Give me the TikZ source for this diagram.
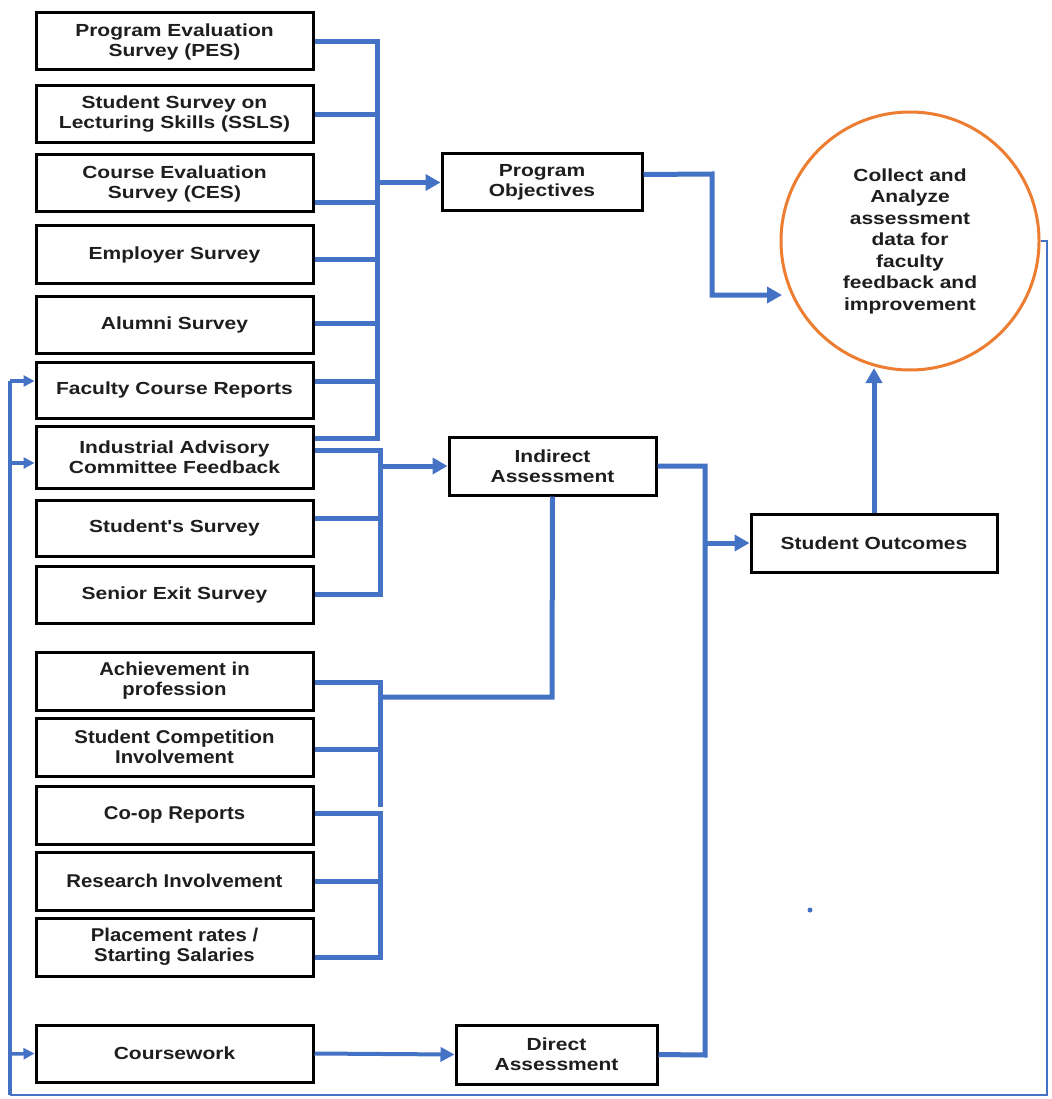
\documentclass[tikz,border=0pt]{standalone}
\usepackage{fontspec}
\setmainfont{Liberation Sans}
\newfontfamily\fa[FakeStretch=1.2]{Liberation Sans}
\newfontfamily\fb[FakeStretch=1.1]{Liberation Sans}
\usetikzlibrary{arrows.meta}
\definecolor{cblue}{HTML}{4472C4}
\definecolor{corange}{HTML}{ED7D31}
\definecolor{ctext}{HTML}{1E1E1E}
\begin{document}
\begin{tikzpicture}[x=1pt,y=-1pt,
  box/.style={draw=black,line width=3pt,align=center,inner sep=2pt,text=ctext,
    font=\fa\bfseries\fontsize{17.5}{20}\selectfont},
  lbox/.style={box,minimum width=277pt,minimum height=57pt},
  lboxb/.style={lbox,font=\fb\bfseries\fontsize{18.5}{20}\selectfont},
  bus/.style={draw=cblue,line width=5pt},
  arr/.style={bus,-{Triangle[length=15pt,width=16pt]}},
  thin/.style={draw=cblue,line width=3.5pt},
  hair/.style={draw=cblue,line width=2.5pt},
  tarr/.style={thin,-{Triangle[length=11pt,width=11pt]}},
  carr/.style={draw=cblue,line width=4pt,-{Triangle[length=14pt,width=14pt]}}]
\useasboundingbox[fill=white] (0,0) rectangle (1051,1099);
% left boxes
\node[lbox] (pes) at (174.5,41.5) {Program Evaluation\\Survey (PES)};
\node[lbox] (ssls) at (174.5,114.5) {Student Survey on\\Lecturing Skills (SSLS)};
\node[lbox] (ces) at (174.5,183.5) {Course Evaluation\\Survey (CES)};
\node[lbox] (emp) at (174.5,254.5) {Employer Survey};
\node[lbox] (alum) at (174.5,324.5) {Alumni Survey};
\node[lbox,minimum height=56pt] (fcr) at (174.5,390) {Faculty Course Reports};
\node[lbox,minimum height=62pt] (iac) at (174.5,457) {Industrial Advisory\\Committee Feedback};
\node[lbox,minimum height=56pt] (ss) at (174.5,528) {Student's Survey};
\node[lbox] (ses) at (174.5,594.5) {Senior Exit Survey};
\node[lboxb,minimum height=58pt] (ach) at (174.5,681) {Achievement in\\profession};
\node[lboxb,minimum height=58pt] (comp) at (174.5,747) {Student Competition\\Involvement};
\node[lboxb,minimum height=58pt] (coop) at (174.5,815) {Co-op Reports};
\node[lboxb,minimum height=58pt] (res) at (174.5,881) {Research Involvement};
\node[lboxb,minimum height=58pt] (plc) at (174.5,947) {Placement rates /\\Starting Salaries};
\node[lbox] (cw) at (174.5,1053.5) {Coursework};
% middle / right boxes
\node[box,minimum width=200pt,minimum height=57pt] (po) at (542,182.5) {Program\\Objectives};
\node[box,minimum width=207pt,minimum height=58pt] (ia) at (552.5,466) {Indirect\\Assessment};
\node[box,minimum width=246pt,minimum height=58pt] (so) at (874,543) {Student Outcomes};
\node[box,minimum width=201pt,minimum height=59pt] (da) at (556.5,1054.5) {Direct\\Assessment};
\node[circle,draw=corange,line width=3pt,minimum size=258pt,inner sep=0pt,align=center,text=ctext,
  font=\fa\bfseries\fontsize{17.5}{21.5}\selectfont] (c) at (910,241)
  {Collect and\\Analyze\\assessment\\data for\\faculty\\feedback and\\improvement};
% top bus
\coordinate (b1) at (377,182.5);
\draw[bus] (pes.east) -- (377,41.5) -- (377,438) -- ([yshift=19pt]iac.east);
\draw[bus] (ssls.east) -- ++(64,0);
\draw[bus] ([yshift=-19.5pt]ces.east) -- ++(64,0);
\draw[bus] ([yshift=-4.5pt]emp.east) -- ++(64,0);
\draw[bus] ([yshift=1.5pt]alum.east) -- ++(64,0);
\draw[bus] ([yshift=9pt]fcr.east) -- ++(64,0);
\draw[arr] (b1) -- (po.west);
% second bus
\coordinate (b2) at (380,466);
\draw[bus] ([yshift=7pt]iac.east) -- (380,450) -- (380,594.5) -- (ses.east);
\draw[bus] ([yshift=10pt]ss.east) -- ++(67,0);
\draw[arr] (b2) -- (ia.west);
% lower buses
\draw[bus] (ia.south) -- (552,697) -- (380,697);
\draw[bus] ([yshift=-1pt]ach.east) -- (380,682) -- (380,807);
\draw[bus] ([yshift=-2pt]comp.east) -- ++(67,0);
\draw[bus] ([yshift=2pt]coop.east) -- (380,813) -- (380,957) -- ([yshift=-10pt]plc.east);
\draw[bus] (res.east) -- ++(67,0);
% right bus
\coordinate (b3) at (705,543);
\draw[bus] (ia.east) -- (705,466) -- (705,1055) -- (da.east);
\draw[arr] (b3) -- (so.west);
% program objectives to circle
\coordinate (ci) at (782,295);
\draw[arr] ([yshift=8pt]po.east) -- (712,174) -- (712,295) -- (ci);
\coordinate (co) at (874,368);
\draw[arr] (so.north) -- (co);
% coursework to direct
\draw[carr] (cw.east) -- (da.west);
% feedback loop
\coordinate (fl) at (10,1095);
\draw[hair] (c.east) -- (1047,241) -- (1047,1095) -- (fl);
\draw[thin] (fl) -- (10,381);
\draw[tarr] (10,381) -- ([yshift=9pt]fcr.west);
\draw[tarr] (10,463) -- ([yshift=-6pt]iac.west);
\draw[tarr] (10,1054) -- (cw.west);
% stray dot
\fill[cblue] (810,910) circle (2.5pt);
\end{tikzpicture}
\end{document}
